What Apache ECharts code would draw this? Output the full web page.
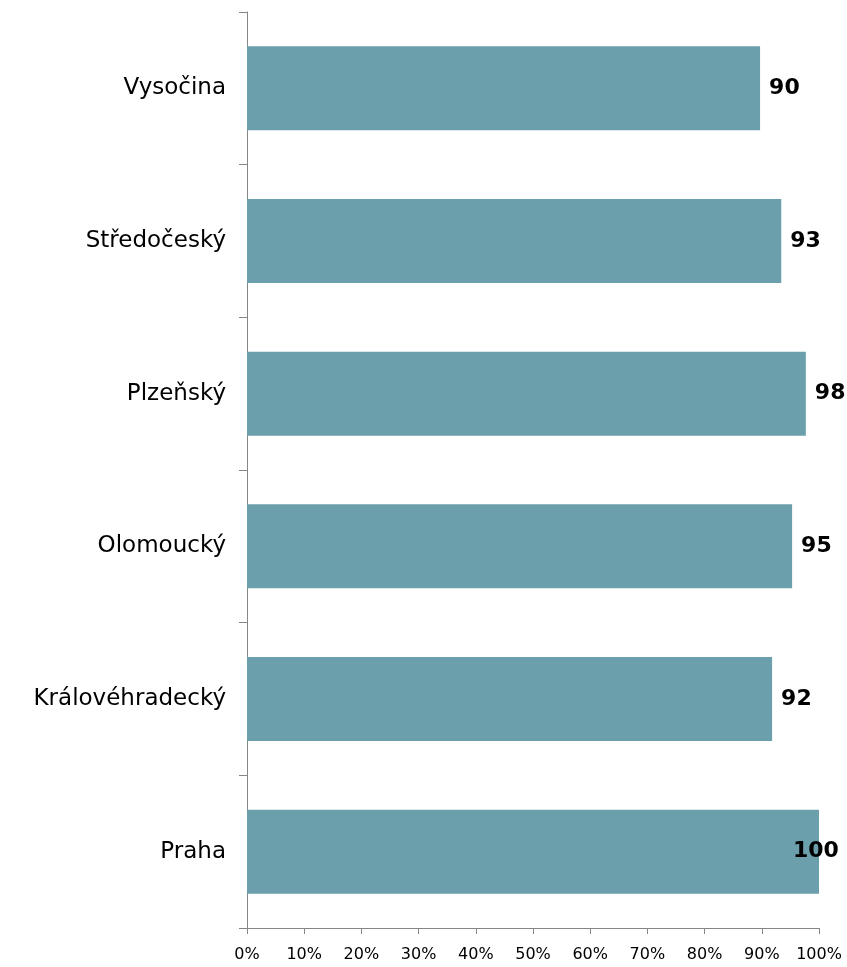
<!DOCTYPE html>
<html><head><meta charset="utf-8">
<script src="https://cdn.jsdelivr.net/npm/echarts@6/dist/echarts.min.js"></script>
<style>html,body{margin:0;padding:0;background:#fff}#c{width:847px;height:967px}</style>
</head><body><div id="c"></div>
<script>
const categories = ['Praha', 'Královéhradecký', 'Olomoucký', 'Plzeňský', 'Středočeský', 'Vysočina'];
const values = [100, 91.8, 95.3, 97.7, 93.4, 89.7];
const xTicks = [0, 10, 20, 30, 40, 50, 60, 70, 80, 90, 100];

const chart = echarts.init(document.getElementById('c'));
const font = 'DejaVu Sans, Verdana, sans-serif';
chart.setOption({
  animation: false,
  grid: {left: 247, right: 28, top: 12, bottom: 39, containLabel: false},
  xAxis: {
    type: 'value', min: xTicks[0], max: xTicks[xTicks.length - 1], interval: 10,
    axisLine: {show: true, lineStyle: {color: '#868686', width: 1}},
    axisTick: {show: true, length: 6, lineStyle: {color: '#868686'}},
    splitLine: {show: false},
    axisLabel: {formatter: v => v + '%', color: '#000', fontFamily: font, fontSize: 16, margin: 19}
  },
  yAxis: {
    type: 'category', data: categories,
    axisLine: {show: true, lineStyle: {color: '#868686', width: 1}},
    axisTick: {show: true, length: 8, lineStyle: {color: '#868686'}},
    axisLabel: {color: '#000', fontFamily: font, fontSize: 23, margin: 21}
  },
  series: [{
    type: 'bar',
    data: values.map((v, i) => i === 0 ? {value: v, label: {offset: [-35, 0]}} : v),
    barCategoryGap: '45%',
    itemStyle: {color: '#6A9FAB'},
    label: {
      show: true, position: 'right', distance: 9,
      formatter: p => Math.round(p.value),
      color: '#000', fontFamily: font, fontSize: 22, fontWeight: 'bold'
    }
  }]
});
</script></body></html>
